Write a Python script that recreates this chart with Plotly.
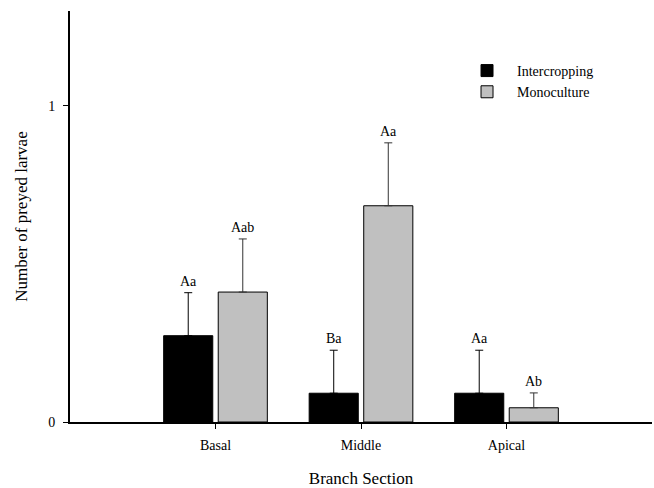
import plotly.graph_objects as go

categories = ["Basal", "Middle", "Apical"]
inter_vals = [0.273, 0.091, 0.091]
inter_err = [0.136, 0.136, 0.136]
mono_vals = [0.411, 0.684, 0.045]
mono_err = [0.168, 0.199, 0.047]
inter_labels = ["Aa", "Ba", "Aa"]
mono_labels = ["Aab", "Aa", "Ab"]
x_pos = [0, 1, 2]

font = "Liberation Serif"

fig = go.Figure()
fig.add_trace(go.Bar(
    x=x_pos, y=inter_vals, name="Intercropping",
    marker=dict(color="black", line=dict(color="black", width=1)),
    error_y=dict(type="data", array=inter_err, arrayminus=[0]*3, symmetric=False,
                 color="black", thickness=1, width=4),
    offsetgroup="a",
))
fig.add_trace(go.Bar(
    x=x_pos, y=mono_vals, name="Monoculture",
    marker=dict(color="#c0c0c0", line=dict(color="black", width=1)),
    error_y=dict(type="data", array=mono_err, arrayminus=[0]*3, symmetric=False,
                 color="#333333", thickness=1, width=4),
    offsetgroup="b",
))

bargap = 0.25
bargroupgap = 0.1
slot = (1 - bargap) / 2
for i, xc in enumerate(x_pos):
    fig.add_annotation(x=xc - slot / 2, y=inter_vals[i] + inter_err[i], text=inter_labels[i],
                       showarrow=False, yanchor="bottom", yshift=2,
                       font=dict(family=font, size=14, color="black"))
    fig.add_annotation(x=xc + slot / 2, y=mono_vals[i] + mono_err[i], text=mono_labels[i],
                       showarrow=False, yanchor="bottom", yshift=2,
                       font=dict(family=font, size=14, color="black"))

fig.update_layout(
    width=654, height=488,
    margin=dict(l=70, r=2, t=11, b=66),
    paper_bgcolor="white", plot_bgcolor="white",
    barmode="group", bargap=bargap, bargroupgap=bargroupgap,
    font=dict(family=font, size=14, color="black"),
    showlegend=True,
    legend=dict(x=0.665, y=0.893, xanchor="left", yanchor="top",
                bgcolor="rgba(0,0,0,0)", font=dict(family=font, size=14),
                tracegroupgap=0, itemwidth=50),
    xaxis=dict(
        range=[-1, 3], tickmode="array", tickvals=x_pos, ticktext=categories,
        showline=True, linecolor="black", linewidth=2, ticks="outside",
        ticklen=5, tickcolor="black", tickwidth=1, showgrid=False, zeroline=False,
        ticklabelstandoff=4,
        title=dict(text="Branch Section", font=dict(family=font, size=17), standoff=22),
        tickfont=dict(family=font, size=14),
    ),
    yaxis=dict(
        range=[0, 1.3], tickmode="array", tickvals=[0, 1], ticktext=["0", "1"],
        showline=True, linecolor="black", linewidth=2, ticks="outside",
        ticklen=5, tickcolor="black", tickwidth=1, showgrid=False, zeroline=False,
        ticklabelstandoff=5,
        title=dict(text="Number of preyed larvae", font=dict(family=font, size=17), standoff=16),
        tickfont=dict(family=font, size=14),
    ),
)

fig.write_html("out.html", config={"displayModeBar": False},
               post_script="document.body.style.margin='0';")
